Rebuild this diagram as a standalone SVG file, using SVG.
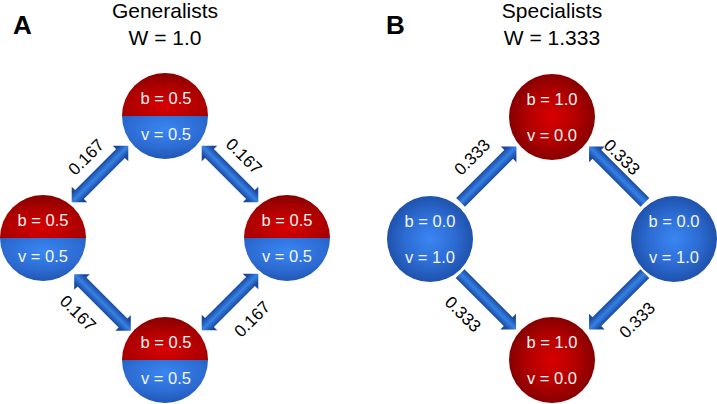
<svg xmlns="http://www.w3.org/2000/svg" width="717" height="404" viewBox="0 0 717 404">
<style>
.title{font-family:"Liberation Sans",Arial,sans-serif;font-size:21px;fill:#000;text-anchor:middle}
.panel{font-family:"Liberation Sans",Arial,sans-serif;font-size:26px;font-weight:bold;fill:#000}
.nt{font-family:"Liberation Sans",Arial,sans-serif;font-size:16.5px;fill:#f4f4f4;text-anchor:middle}
.lbl{font-family:"Liberation Sans",Arial,sans-serif;font-size:17px;fill:#000;text-anchor:middle}
.arrow{fill:url(#gArrow)}
</style>
<defs>
<radialGradient id="gRed" cx="0.5" cy="0.5" r="0.5">
<stop offset="0" stop-color="#d90000"/>
<stop offset="0.6" stop-color="#b00000"/>
<stop offset="1" stop-color="#870000"/>
</radialGradient>
<radialGradient id="gBlue" cx="0.5" cy="0.5" r="0.5">
<stop offset="0" stop-color="#3a86f2"/>
<stop offset="0.6" stop-color="#2c6bd2"/>
<stop offset="1" stop-color="#1f52ac"/>
</radialGradient>
<radialGradient id="gRedTop" cx="0.5" cy="0.75" r="0.75">
<stop offset="0" stop-color="#d90000"/>
<stop offset="0.6" stop-color="#ad0000"/>
<stop offset="1" stop-color="#860000"/>
</radialGradient>
<radialGradient id="gBlueBot" cx="0.5" cy="0.3" r="0.75">
<stop offset="0" stop-color="#3a86f2"/>
<stop offset="0.6" stop-color="#2c6bd2"/>
<stop offset="1" stop-color="#1f52ac"/>
</radialGradient>
<linearGradient id="gArrow" x1="0" y1="0" x2="0" y2="1">
<stop offset="0" stop-color="#17438f"/>
<stop offset="0.22" stop-color="#1a4b9e"/>
<stop offset="0.5" stop-color="#3680e6"/>
<stop offset="0.78" stop-color="#1a4b9e"/>
<stop offset="1" stop-color="#17438f"/>
</linearGradient>
<path id="dbl" class="arrow" d="M -40 0 L -29 -11 L -29 -6.2 L 29 -6.2 L 29 -11 L 40 0 L 29 11 L 29 6.2 L -29 6.2 L -29 11 Z"/>
<path id="sgl" class="arrow" d="M -39.5 -6.2 L 28.5 -6.2 L 28.5 -11 L 39.5 0 L 28.5 11 L 28.5 6.2 L -39.5 6.2 Z"/>
<g id="split">
<path d="M -43 0 A 43 43 0 0 1 43 0 Z" fill="url(#gRedTop)"/>
<path d="M -43 0 A 43 43 0 0 0 43 0 Z" fill="url(#gBlueBot)"/>
</g>
</defs>

<text class="panel" x="13" y="34">A</text>
<text class="title" x="165" y="18">Generalists</text>
<text class="title" x="165" y="45">W = 1.0</text>
<text class="panel" x="386" y="34">B</text>
<text class="title" x="552" y="18">Specialists</text>
<text class="title" x="552" y="45">W = 1.333</text>

<g id="connectors">
<use href="#dbl" transform="translate(100,174) rotate(-45)"/>
<use href="#dbl" transform="translate(230,174) rotate(45)"/>
<use href="#dbl" transform="translate(102.5,302.5) rotate(45)"/>
<use href="#dbl" transform="translate(230,302) rotate(-45)"/>
<use href="#sgl" transform="translate(488.5,174.5) rotate(-45)"/>
<use href="#sgl" transform="translate(617,174.5) rotate(-135)"/>
<use href="#sgl" transform="translate(488,301.5) rotate(45)"/>
<use href="#sgl" transform="translate(617,301.5) rotate(135)"/>
<text class="lbl" transform="translate(86,157) rotate(-45)" dy="0.35em">0.167</text>
<text class="lbl" transform="translate(244,156) rotate(45)" dy="0.35em">0.167</text>
<text class="lbl" transform="translate(78,313) rotate(45)" dy="0.35em">0.167</text>
<text class="lbl" transform="translate(252,319) rotate(-45)" dy="0.35em">0.167</text>
<text class="lbl" transform="translate(472,157) rotate(-45)" dy="0.35em">0.333</text>
<text class="lbl" transform="translate(622,157) rotate(45)" dy="0.35em">0.333</text>
<text class="lbl" transform="translate(463,314) rotate(45)" dy="0.35em">0.333</text>
<text class="lbl" transform="translate(637,320) rotate(-45)" dy="0.35em">0.333</text>
</g>

<g id="A-top">
<use href="#split" transform="translate(165,116)"/>
<text class="nt" x="166" y="104">b = 0.5</text>
<text class="nt" x="166" y="140">v = 0.5</text>
</g>
<g id="A-left">
<use href="#split" transform="translate(43,238)"/>
<text class="nt" x="43" y="226">b = 0.5</text>
<text class="nt" x="43" y="262">v = 0.5</text>
</g>
<g id="A-right">
<use href="#split" transform="translate(287,238)"/>
<text class="nt" x="287" y="226">b = 0.5</text>
<text class="nt" x="287" y="262">v = 0.5</text>
</g>
<g id="A-bottom">
<use href="#split" transform="translate(165,360)"/>
<text class="nt" x="166" y="348">b = 0.5</text>
<text class="nt" x="166" y="384">v = 0.5</text>
</g>

<g id="B-top">
<circle cx="552" cy="117" r="43" fill="url(#gRed)"/>
<text class="nt" x="552" y="105">b = 1.0</text>
<text class="nt" x="552" y="141">v = 0.0</text>
</g>
<g id="B-left">
<circle cx="430" cy="239" r="43" fill="url(#gBlue)"/>
<text class="nt" x="430" y="227">b = 0.0</text>
<text class="nt" x="430" y="263">v = 1.0</text>
</g>
<g id="B-right">
<circle cx="674" cy="239" r="43" fill="url(#gBlue)"/>
<text class="nt" x="674" y="227">b = 0.0</text>
<text class="nt" x="674" y="263">v = 1.0</text>
</g>
<g id="B-bottom">
<circle cx="552" cy="360" r="43" fill="url(#gRed)"/>
<text class="nt" x="552" y="348">b = 1.0</text>
<text class="nt" x="552" y="384">v = 0.0</text>
</g>
</svg>
